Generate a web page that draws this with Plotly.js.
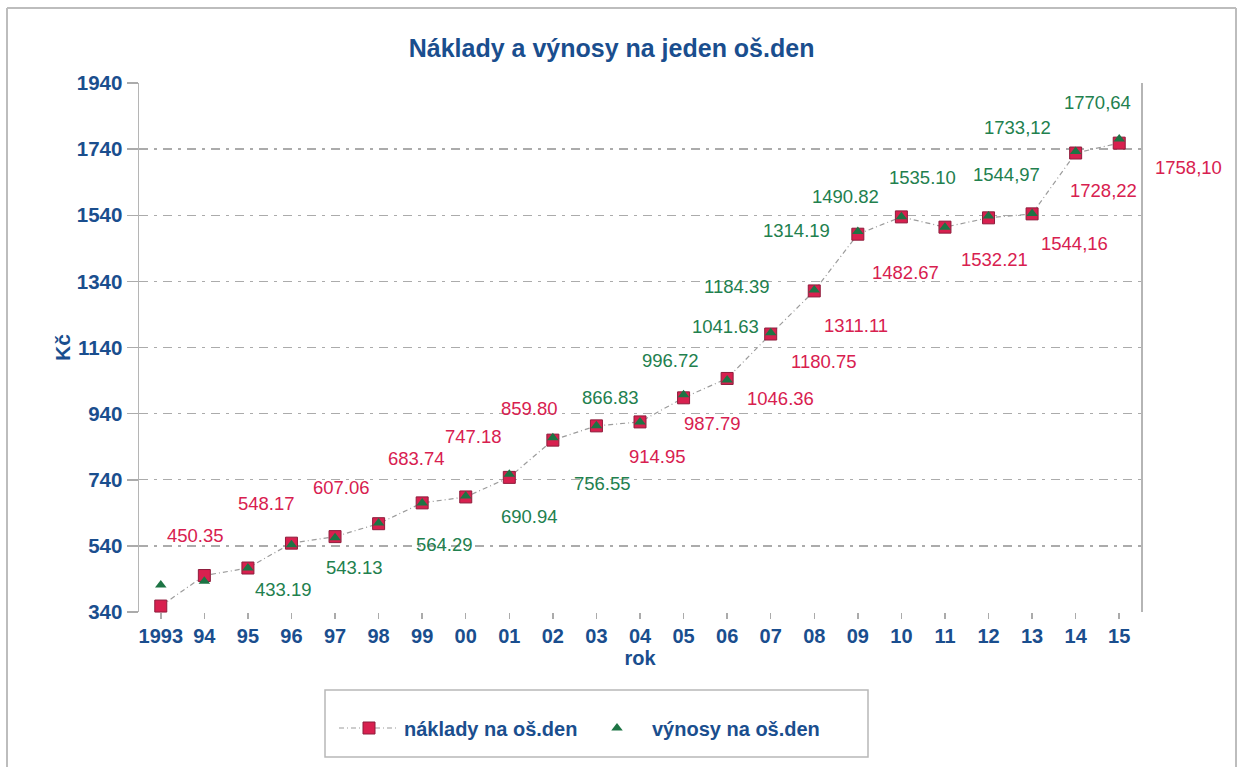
<!DOCTYPE html>
<html>
<head>
<meta charset="utf-8">
<script src="https://cdn.plot.ly/plotly-3.0.1.min.js"></script>
<style>
  html, body { margin: 0; padding: 0; background: #ffffff; }
  #chart { width: 1238px; height: 767px; }
</style>
</head>
<body>
<div id="chart"></div>
<script>
// ---- data ----
const years = ['1993','94','95','96','97','98','99','00','01','02','03','04','05','06','07','08','09','10','11','12','13','14','15'];

// náklady na oš.den (red squares)
const naklady = [358, 450.35, 473, 548.17, 568, 607.06, 670, 688, 747.18, 859.80, 903, 914.95, 987.79, 1046.36, 1180.75, 1311.11, 1482.67, 1535, 1504, 1532.21, 1544.16, 1728.22, 1758.10];
// výnosy na oš.den (green triangles)
const vynosy = [422, 433.19, 473, 543.13, 564.29, 609, 670, 690.94, 756.55, 866.83, 903, 915, 996.72, 1041.63, 1184.39, 1314.19, 1490.82, 1535.10, 1504, 1538, 1544.97, 1733.12, 1770.64];

// data labels as printed in the chart ('' = no label)
const nakladyLabels = ['', '450.35', '', '548.17', '', '607.06', '683.74', '', '747.18', '859.80', '', '914.95', '987.79', '1046.36', '1180.75', '1311.11', '1482.67', '', '', '1532.21', '1544,16', '1728,22', '1758,10'];
const vynosyLabels = ['', '433.19', '', '543.13', '564.29', '', '', '690.94', '756.55', '866.83', '', '', '996.72', '1041.63', '1184.39', '1314.19', '1490.82', '1535.10', '', '', '1544,97', '1733,12', '1770,64'];

const yTicks = [340, 540, 740, 940, 1140, 1340, 1540, 1740, 1940];

// ---- label placement (pixel offsets, styling only) ----
const nakladyDx = [0, -9, 0, -25, 0, -37, -6, 0, -36, -23, 0, 17, 29, 53, 53, 42, 48, 0, 0, 6, 42, 28, 69];
const nakladyDy = [0, -40, 0, -40, 0, -36, -44, 0, -41, -32, 0, 35, 26, 20, 27, 35, 38, 0, 0, 42, 30, 37, 24];
const vynosyDx = [0, 79, 0, 63, 109, 0, 0, 64, 93, 58, 0, 0, -13, -2, -34, -18, -12, 21, 0, 0, -26, -58, -22];
const vynosyDy = [0, 8, 0, 23, 7, 0, 0, 21, 9, -40, 0, 0, -34, -54, -46, -59, -35, -39, 0, 0, -39, -24, -36];

const FONT = 'Liberation Sans, Arial, sans-serif';
const BLUE = '#1a4e8e';
const RED = '#d8204f';
const GREEN = '#22804e';
const GRID = '#ababab';

const annotations = [];
years.forEach((yr, i) => {
  // x given as category index so that names like '01' are not read as numbers
  if (nakladyLabels[i]) {
    annotations.push({x: i, y: naklady[i], xref: 'x', yref: 'y', text: nakladyLabels[i],
      showarrow: true, arrowcolor: 'rgba(0,0,0,0)', arrowwidth: 0.1, ax: nakladyDx[i], ay: nakladyDy[i],
      font: {family: FONT, size: 18.5, color: RED}});
  }
  if (vynosyLabels[i]) {
    annotations.push({x: i, y: vynosy[i], xref: 'x', yref: 'y', text: vynosyLabels[i],
      showarrow: true, arrowcolor: 'rgba(0,0,0,0)', arrowwidth: 0.1, ax: vynosyDx[i], ay: vynosyDy[i],
      font: {family: FONT, size: 18.5, color: GREEN}});
  }
});

const traces = [
  {
    type: 'scatter', mode: 'lines+markers', name: 'náklady na oš.den',
    x: years, y: naklady,
    line: {color: '#9c9c9c', width: 1.2, dash: '5px,3px,1px,3px'},
    marker: {symbol: 'square', size: 12, color: RED, line: {color: '#8e1d3c', width: 1}},
    cliponaxis: false
  },
  {
    type: 'scatter', mode: 'markers', name: 'výnosy na oš.den',
    x: years, y: vynosy,
    marker: {symbol: 'triangle-up', size: 10, color: '#1d7444'},
    cliponaxis: false
  }
];

const L = 139, R = 1141, T = 83, B = 612;
const pw = R - L, ph = B - T;
const px = v => (v - L) / pw;
const py = v => (B - v) / ph;

const layout = {
  width: 1238, height: 767,
  margin: {l: L, r: 1238 - R, t: T, b: 767 - B},
  paper_bgcolor: '#ffffff', plot_bgcolor: '#ffffff',
  font: {family: FONT, color: BLUE},
  title: {text: '<b>Náklady a výnosy na jeden oš.den</b>', x: 0.494, xanchor: 'center', y: 1 - 48/767, yanchor: 'middle',
          font: {family: FONT, size: 25, color: BLUE}},
  xaxis: {
    type: 'category', range: [-0.5, 22.5],
    title: {text: '<b>rok</b>', font: {family: FONT, size: 20, color: BLUE}, standoff: 4},
    tickfont: {family: FONT, size: 20, color: BLUE, weight: 'bold'},
    ticks: 'outside', ticklen: 6, tickcolor: GRID, tickwidth: 1.5,
    showgrid: false, zeroline: false, showline: false, automargin: false
  },
  yaxis: {
    range: [340, 1940], tickvals: yTicks, ticktext: yTicks.map(String),
    title: {text: '<b>Kč</b>', font: {family: FONT, size: 21, color: BLUE}, standoff: 0},
    tickfont: {family: FONT, size: 20.5, color: BLUE, weight: 'bold'},
    ticks: 'outside', ticklen: 11, tickcolor: GRID, tickwidth: 1.5,
    showgrid: true, gridcolor: GRID, gridwidth: 1.3, griddash: '9px,6px,3px,6px',
    showline: true, linecolor: '#b5b5b5', linewidth: 1.5, mirror: true,
    zeroline: false, automargin: false
  },
  showlegend: true,
  legend: {
    orientation: 'h', x: px(334), xanchor: 'left', y: py(728), yanchor: 'middle',
    font: {family: FONT, size: 20, color: BLUE, weight: 'bold'},
    bgcolor: 'rgba(0,0,0,0)', borderwidth: 0,
    itemwidth: 60, entrywidth: 173, entrywidthmode: 'pixels'
  },
  annotations: annotations,
  shapes: [
    // legend box
    {type: 'rect', xref: 'paper', yref: 'paper', x0: px(325), x1: px(868), y0: py(757), y1: py(690),
     line: {color: '#b8b8b8', width: 1.5}, fillcolor: 'rgba(0,0,0,0)'},
    // outer frame
    {type: 'line', xref: 'paper', yref: 'paper', x0: px(7), x1: px(7), y0: py(780), y1: py(8), line: {color: '#bdbdbd', width: 2}},
    {type: 'line', xref: 'paper', yref: 'paper', x0: px(7), x1: px(1236), y0: py(8), y1: py(8), line: {color: '#bdbdbd', width: 2}},
    {type: 'line', xref: 'paper', yref: 'paper', x0: px(1236), x1: px(1236), y0: py(780), y1: py(8), line: {color: '#bdbdbd', width: 2}}
  ]
};

Plotly.newPlot('chart', traces, layout, {displayModeBar: false, staticPlot: true});
</script>
</body>
</html>
